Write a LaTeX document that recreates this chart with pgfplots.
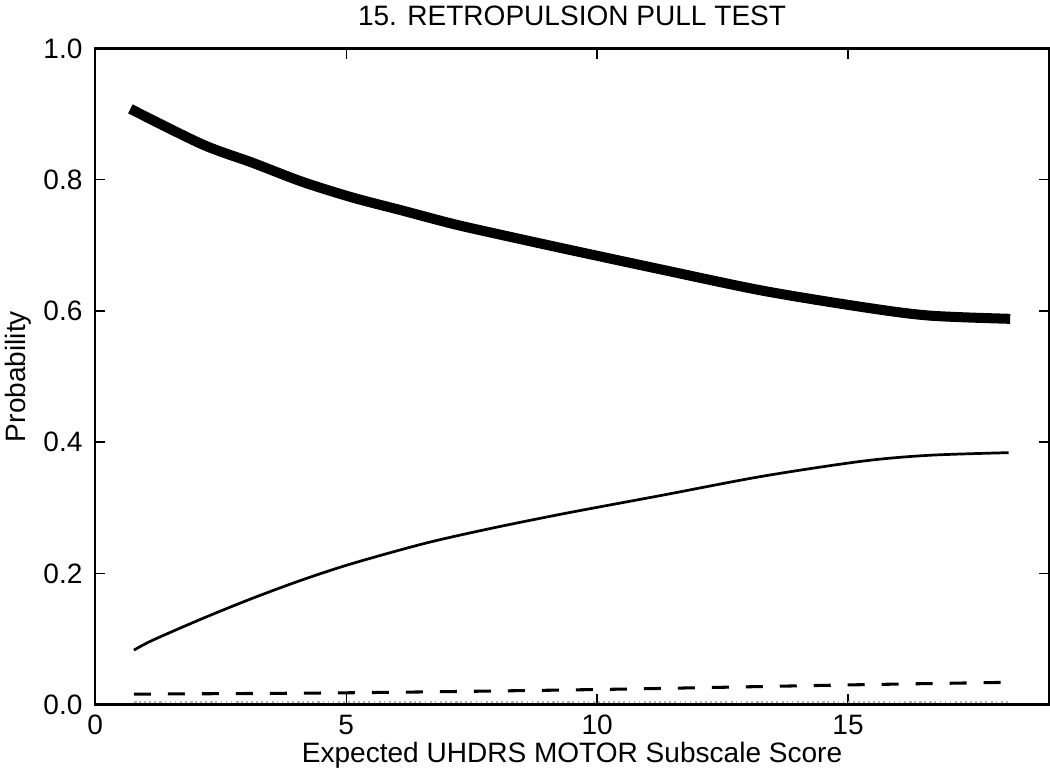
\documentclass[border=0pt]{standalone}
\usepackage{pgfplots}
\pgfplotsset{compat=1.18}
\usepackage{fontspec}
\setmainfont{Liberation Sans}

\begin{document}
\begin{tikzpicture}
\begin{axis}[
	width=561pt, height=386pt, scale only axis,
	xmin=0, xmax=19, ymin=0, ymax=1,
	xtick={0,5,10,15},
	ytick={0,0.2,0.4,0.6,0.8,1.0},
	yticklabel style={xshift=-4pt, /pgf/number format/.cd, fixed, fixed zerofill, precision=1},
	/pgf/number format/assume math mode=true,
	tick align=inside,
	major tick length=6pt,
	tick style={black, line width=0.8pt},
	axis line style={line width=1.4pt},
	font=\fontsize{16.5}{19}\selectfont,
	xticklabel style={anchor=base, yshift=-17.5pt},
	title={15. RETROPULSION PULL TEST},
	title style={yshift=4pt},
	xlabel={Expected UHDRS MOTOR Subscale Score},
	xlabel style={at={(axis description cs:0.5,0)}, anchor=base, yshift=-34pt, inner sep=0pt},
	ylabel={Probability},
	ylabel style={yshift=0pt},
	every axis plot/.append style={black, line cap=butt, line join=round, smooth},
]
% thick line
\addplot[line width=5.9pt] coordinates {
	(0.70,0.908) (2.13,0.854) (3.13,0.826) (4.12,0.797) (5.12,0.773)
	(6.12,0.753) (7.11,0.733) (7.91,0.719) (9.40,0.694) (11.29,0.663)
	(13.29,0.631) (15.28,0.606) (16.61,0.593) (18.23,0.588)
};
% thin line
\addplot[line width=1.6pt] coordinates {
	(0.77,0.083) (1.14,0.098) (2.13,0.131) (3.13,0.162) (4.12,0.190)
	(5.12,0.215) (6.58,0.246) (7.91,0.269) (9.40,0.292) (11.29,0.319)
	(13.29,0.348) (15.28,0.371) (16.61,0.380) (18.20,0.384)
};
% dashed line
\addplot[line width=1.8pt, dash pattern=on 10pt off 10pt] coordinates {
	(0.77,0.016) (5,0.018) (10,0.023) (15,0.030) (18.2,0.034)
};
% dotted line
\addplot[gray!60, line width=1pt, dotted] coordinates {
	(0.77,0.004) (5,0.004) (10,0.004) (15,0.004) (18.2,0.004)
};
\end{axis}
\end{tikzpicture}
\end{document}
